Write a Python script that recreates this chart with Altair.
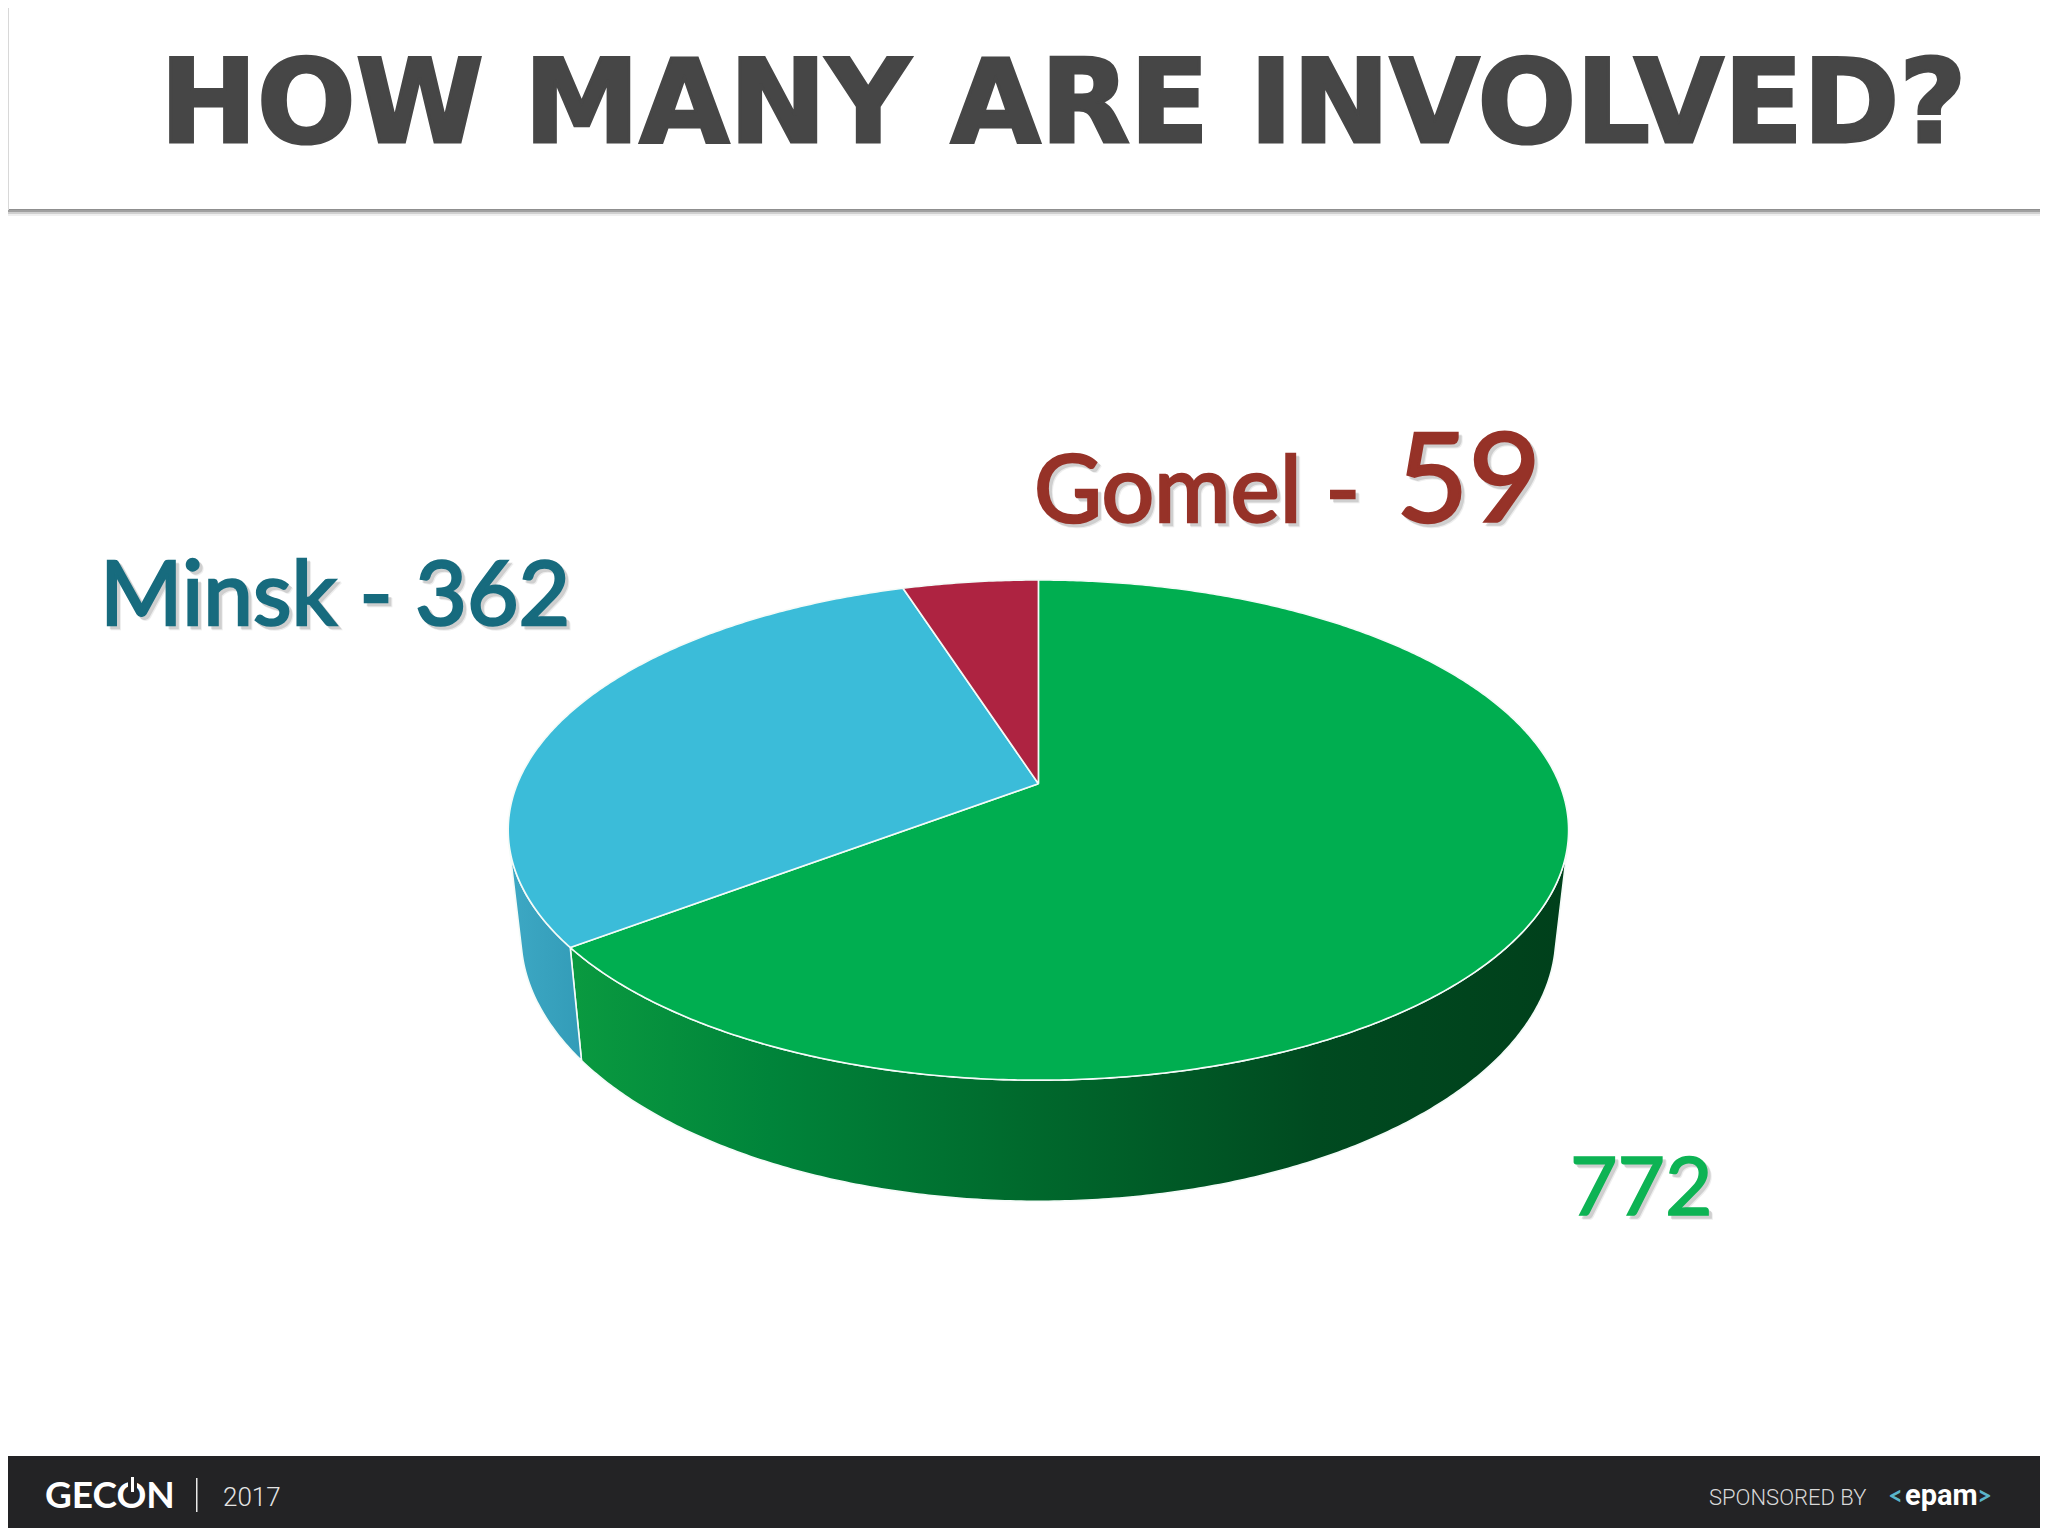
import math
import numpy as np
import altair as alt

# --- chart values -----------------------------------------------------------
cities = ["Other", "Minsk", "Gomel"]
counts = [772, 362, 59]
title_text = "HOW MANY ARE INVOLVED?"

# --- pie geometry (perspective disc, page pixels) ---------------------------
APEX_X, APEX_Y = 1038.4, 783.7
A, B, P = 521.0, 241.5, 0.1854
SX, SY, DROP = 0.976, 1.061, 103.0
SIDE_TURN = 103.5  # where the wall meets the silhouette

total = sum(counts)
sweep = [c / total * 360 for c in counts]
g_end = sweep[0]
b_end = g_end + sweep[1]


def top(deg):
    u, v = math.sin(math.radians(deg)), math.cos(math.radians(deg))
    d = 1 + P * v
    return APEX_X + A * u / d, APEX_Y - B * v / d


def bottom(deg):
    x, y = top(deg)
    return APEX_X + (x - APEX_X) * SX, APEX_Y + (y - APEX_Y) * SY + DROP


def recs(points):
    return [{"x": x, "y": y, "i": i} for i, (x, y) in enumerate(points)]


def wedge(a0, a1):
    n = max(int(abs(a1 - a0)), 2) * 2
    rim = [top(a) for a in np.linspace(a0, a1, n)]
    return recs([(APEX_X, APEX_Y)] + rim + [(APEX_X, APEX_Y)])


def wall(a0, a1):
    n = max(int(abs(a1 - a0)), 2) * 2
    angs = list(np.linspace(a0, a1, n))
    pts = [top(a) for a in angs] + [bottom(a) for a in reversed(angs)]
    return recs(pts + [pts[0]])


X = alt.X("x:Q", scale=alt.Scale(domain=[8, 2040], nice=False, zero=False), axis=None)
Y = alt.Y("y:Q", scale=alt.Scale(domain=[1528, 8], nice=False, zero=False), axis=None)


def poly(points, fill, stroke="#f4fbf8", sw=1.6):
    return alt.Chart(alt.Data(values=points)).mark_line(
        fill=fill, stroke=stroke, strokeWidth=sw, strokeJoin="round", clip=False
    ).encode(x=X, y=Y, order="i:Q")


def grad(stops):
    return alt.Gradient(
        gradient="linear", x1=0, y1=0, x2=1, y2=0,
        stops=[alt.GradientStop(offset=o, color=c) for o, c in stops],
    )


def block(x0, x1, y0, y1, color, opacity=1.0):
    return alt.Chart(alt.Data(values=[{"x": x0, "x2": x1, "y": y0, "y2": y1}])).mark_rect(
        color=color, opacity=opacity
    ).encode(x=X, x2="x2:Q", y=Y, y2="y2:Q")


def label(text, x, y, size, color, font="Lato", weight="normal", align="left",
          opacity=1.0, stroke=None, sw=0):
    kw = dict(font=font, fontSize=size, fontWeight=weight, color=color, align=align,
              baseline="alphabetic", opacity=opacity)
    if stroke:
        kw.update(stroke=stroke, strokeWidth=sw)
    return alt.Chart(alt.Data(values=[{"x": x, "y": y, "t": text}])).mark_text(**kw).encode(
        x=X, y=Y, text="t:N"
    )


def shadowed(text, x, y, size, color, weight="normal", sw=2.6):
    return [
        label(text, x + 4, y + 4, size, "#999999", weight=weight, opacity=0.16, stroke="#999999", sw=sw),
        label(text, x + 3, y + 3, size, "#777777", weight=weight, opacity=0.25, stroke="#777777", sw=sw),
        label(text, x, y, size, color, weight=weight, stroke=color, sw=sw),
    ]


layers = []

# header band
layers += [
    block(8, 2040, 209, 210, "#8f8f8f"),
    block(8, 2040, 210, 212, "#a0a0a0"),
    block(8, 2040, 212, 214, "#cfcfcf"),
    block(8, 2040, 214, 216, "#efefef"),
    block(8, 9, 8, 210, "#d8d8d8"),
]
layers.append(label(title_text, 160, 142, 116, "#464646", font="DejaVu Sans", weight="bold",
                    stroke="#464646", sw=3))

# pie: walls, then top wedges
layers.append(poly(wall(SIDE_TURN, g_end), grad([
    (0.0, "#0a9a40"), (0.2, "#00843a"), (0.45, "#006a2d"), (0.75, "#004a20"), (1.0, "#00401b"),
])))
layers.append(poly(wall(g_end, 360 - SIDE_TURN), grad([(0.0, "#3da8c4"), (1.0, "#339cb8")])))
layers.append(poly(wedge(0, g_end), "#00ae50"))
layers.append(poly(wedge(g_end, b_end), "#3bbcd9"))
layers.append(poly(wedge(b_end, 360), "#ae2341"))

# labels
layers += shadowed(f"{cities[1]} - {counts[1]}", 100, 625, 89, "#176b7e")
layers += shadowed(f"{cities[2]} -", 1034, 522, 93, "#963228")
layers += shadowed(f"{counts[2]}", 1396, 522, 125, "#963228")
layers += shadowed(f"{counts[0]}", 1570, 1215, 82, "#0db354", sw=1.6)

# footer
layers.append(block(8, 2040, 1456, 1528, "#232325"))
layers.append(label("GECON", 45, 1508, 37, "#ffffff", weight="bold"))
layers.append(block(128, 137, 1474, 1490, "#232325"))
layers.append(block(131, 134, 1477, 1492, "#ffffff"))
layers.append(block(196, 197.5, 1478, 1512, "#e8e8e8"))
layers.append(label("2017", 223, 1506, 26, "#e4e4e4", font="Roboto", weight=300))
layers.append(label("SPONSORED BY", 1709, 1505, 22, "#d8d8d8", font="Roboto", weight=300))
layers.append(label("<", 1903, 1505, 26, "#5ab5c9", weight="bold", align="right"))
layers.append(label("epam", 1905, 1505, 29, "#ffffff", font="Roboto", weight="bold"))
layers.append(label(">", 1977, 1505, 26, "#5ab5c9", weight="bold"))

chart = alt.layer(*layers).properties(
    width=2032, height=1520, padding=0, background="#ffffff"
).configure_view(stroke=None)

chart.save("out.html", embed_options={"renderer": "svg", "actions": False})
